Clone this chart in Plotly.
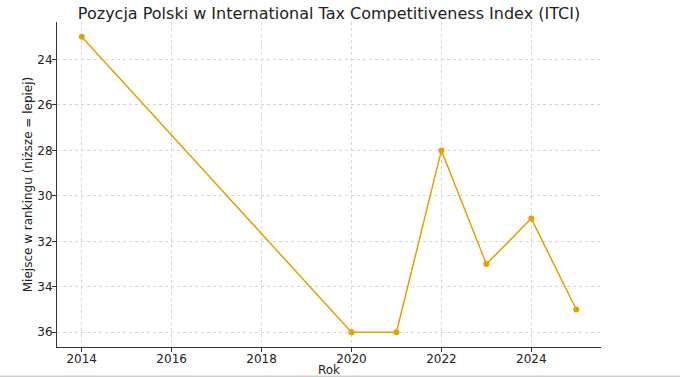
import plotly.graph_objects as go

years = [2014, 2020, 2021, 2022, 2023, 2024, 2025]
ranks = [23, 36, 36, 28, 33, 31, 35]
x_ticks = [2014, 2016, 2018, 2020, 2022, 2024]
y_ticks = [24, 26, 28, 30, 32, 34, 36]

fig = go.Figure(go.Scatter(
    x=years, y=ranks, mode="lines+markers",
    line=dict(color="#E69F00", width=1.5),
    marker=dict(color="#E69F00", size=6),
))

font = "DejaVu Sans, sans-serif"
fig.update_layout(
    width=680, height=377,
    margin=dict(l=57, r=79, t=21.5, b=30.2, autoexpand=False),
    paper_bgcolor="white", plot_bgcolor="white",
    showlegend=False,
    font=dict(family=font, size=12, color="#222"),
    title=dict(text="Pozycja Polski w International Tax Competitiveness Index (ITCI)",
               x=0.5, xref="paper", xanchor="center", y=0.965, yanchor="middle",
               font=dict(size=16, family=font, color="#222")),
    shapes=[dict(type="line", xref="paper", yref="paper",
                 x0=-57 / 544, x1=(544 + 79) / 544, y0=-29.4 / 325.3, y1=-29.4 / 325.3,
                 line=dict(color="#cfcfcf", width=1.5))],
)
fig.update_xaxes(
    range=[2013.45, 2025.55], tickvals=x_ticks, ticktext=[str(v) for v in x_ticks],
    showgrid=True, gridcolor="#d5d5d5", griddash="dot", gridwidth=1,
    showline=True, linecolor="#333", linewidth=1,
    ticks="outside", ticklen=4, tickcolor="#333",
    ticklabelstandoff=-3,
    zeroline=False, automargin=False,
    title=dict(text="Rok", font=dict(size=12), standoff=3),
)
fig.update_yaxes(
    range=[36.65, 22.35], tickvals=y_ticks, ticktext=[str(v) for v in y_ticks],
    showgrid=True, gridcolor="#d5d5d5", griddash="dot", gridwidth=1,
    showline=True, linecolor="#333", linewidth=1,
    ticks="outside", ticklen=4, tickcolor="#333",
    ticklabelstandoff=-3,
    zeroline=False, automargin=False,
    title=dict(text="Miejsce w rankingu (niższe = lepiej)", font=dict(size=12), standoff=2),
)
fig.write_html("out.html", config={"displayModeBar": False},
               post_script="document.body.style.margin='0';")
